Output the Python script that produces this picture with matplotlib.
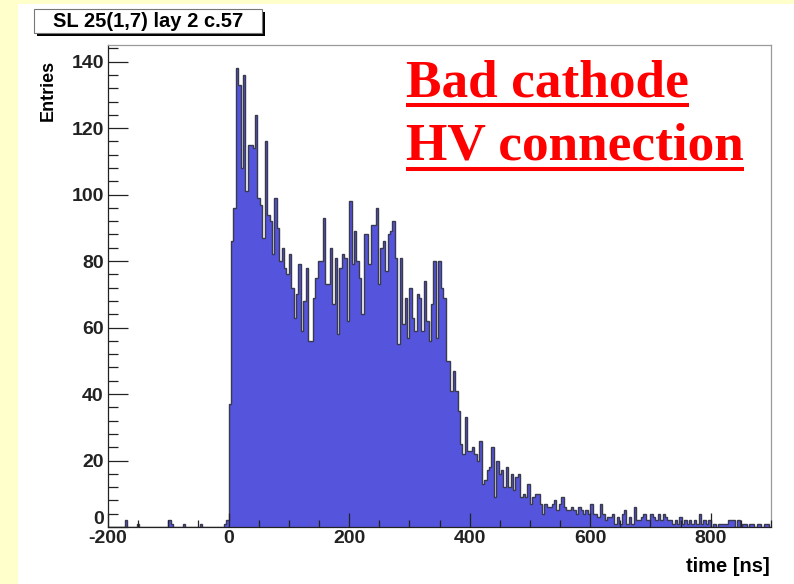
import numpy as np
import matplotlib
matplotlib.use('Agg')
import matplotlib.pyplot as plt
import matplotlib.transforms as mtransforms
from matplotlib.lines import Line2D
from matplotlib.patches import Rectangle

plt.rcParams['axes.unicode_minus'] = False
plt.rcParams['font.family'] = ['Liberation Sans', 'DejaVu Sans']

W, H = 794, 584

# drift time histogram, 4 ns bins from -200 to 900 ns
t_min, t_max, bin_width = -200, 900, 4

# bins below t=0 (-200 .. 0 ns)
neg_counts = [0, 0, 0, 0, 0, 0, 0, 2, 0, 0,
              0, 0, 1, 0, 0, 0, 0, 0, 0, 0,
              0, 0, 0, 0, 0, 2, 1, 0, 0, 0,
              0, 1, 0, 0, 0, 0, 0, 0, 1, 0,
              0, 0, 0, 0, 0, 0, 0, 0, 1, 2]

# 0 .. 128 ns
early_counts = [37, 86, 96, 138, 133, 108, 136, 101, 115, 115,
                114, 124, 99, 97, 87, 116, 94, 92, 82, 99,
                90, 80, 84, 78, 76, 82, 72, 63, 70, 79,
                59, 68]
# 128 .. 200 ns
dip_counts = [78, 56, 56, 69, 75, 80, 80, 93, 73, 73,
              84, 67, 81, 58, 78, 82, 81, 62]
# 200 .. 360 ns
plateau_counts = [98, 79, 89, 80, 75, 64, 88, 88, 79, 91,
                  91, 96, 73, 84, 86, 77, 88, 89, 92, 81,
                  55, 81, 61, 69, 57, 72, 63, 59, 70, 69,
                  59, 74, 62, 56, 67, 80, 57, 80, 72, 69]
# 360 .. 620 ns
edge_counts = [50, 50, 41, 47, 41, 35, 25, 22, 33, 23,
               23, 24, 22, 20, 26, 13, 14, 17, 18, 24,
               9, 20, 16, 17, 12, 18, 12, 16, 11, 15,
               16, 9, 10, 9, 13, 7, 9, 10, 10, 7,
               4, 7, 6, 6, 7, 8, 5, 7, 9, 6,
               5, 5, 6, 5, 4, 6, 5, 4, 5, 4,
               7, 4, 4, 3, 7]
# 620 .. 900 ns
tail_counts = [4, 2, 3, 3, 4, 1, 3, 1, 4, 5,
               1, 3, 1, 6, 2, 2, 3, 4, 2, 2,
               4, 3, 2, 4, 2, 4, 3, 2, 2, 1,
               2, 1, 3, 1, 2, 1, 2, 1, 2, 1,
               4, 1, 2, 1, 2, 0, 1, 0, 1, 1,
               1, 1, 2, 2, 2, 0, 2, 0, 1, 1,
               0, 1, 1, 0, 1, 1, 0, 1, 1, 0]

counts = np.array(neg_counts + early_counts + dip_counts + plateau_counts
                  + edge_counts + tail_counts)
edges = t_min + bin_width * np.arange(len(counts) + 1)

title = 'SL 25(1,7) lay 2 c.57'
note_lines = ['Bad cathode', 'HV connection']


def fx(x):
    return x / W


def fy(y):
    return 1 - y / H


fig = plt.figure(figsize=(W / 100, H / 100), dpi=100, facecolor='#ffffcc')
# white canvas area
fig.add_artist(Rectangle((fx(18), 0), 1 - fx(18), fy(4), transform=fig.transFigure,
                         facecolor='white', edgecolor='none', zorder=0))

ax = fig.add_axes([fx(108), fy(527), fx(771) - fx(108), fy(45) - fy(527)])
ax.set_facecolor('white')
ax.stairs(counts, edges, fill=True, facecolor='#5454dc', linewidth=0)
ax.stairs(counts, edges, fill=False, edgecolor='#3a3a4e', linewidth=1.0)

ax.set_xlim(t_min, t_max)
ax.set_ylim(0, 145)
ax.set_axisbelow(False)

ax.set_xticks(np.arange(-200, 901, 200))
ax.set_xticks(np.arange(-200, 901, 50), minor=True)
ax.set_yticks(np.arange(0, 141, 20))
ax.set_yticks(np.arange(0, 145, 4), minor=True)
ax.tick_params(axis='both', which='both', direction='in', colors='#222222',
               width=0.9, top=False, right=False)
ax.tick_params(axis='y', which='major', length=14.5, pad=3)
ax.tick_params(axis='y', which='minor', length=7)
ax.tick_params(axis='x', which='major', length=10, pad=2)
ax.tick_params(axis='x', which='minor', length=5)
for lab in ax.get_xticklabels() + ax.get_yticklabels():
    lab.set_fontweight('bold')
    lab.set_fontsize(14)

# lift the y "0" label so it clears the x labels
zero_lab = ax.get_yticklabels()[0]
zero_lab.set_transform(zero_lab.get_transform()
                       + mtransforms.ScaledTranslation(0, 9 / 100, fig.dpi_scale_trans))

for side in ('left', 'bottom'):
    ax.spines[side].set_color('#222222')
    ax.spines[side].set_linewidth(0.9)
for side in ('top', 'right'):
    ax.spines[side].set_color('#9a9a9a')
    ax.spines[side].set_linewidth(0.9)

fig.text(fx(48), fy(90), 'Entries', rotation=90, ha='center', va='center',
         fontsize=13, fontweight='bold')
fig.text(fx(770), fy(566), 'time [ns]', ha='right', va='center',
         fontsize=14.5, fontweight='bold')

# title pave with shadow
fig.add_artist(Rectangle((fx(37), fy(36)), fx(265) - fx(37), fy(12) - fy(36),
                         transform=fig.transFigure, facecolor='black',
                         edgecolor='none', zorder=3))
fig.add_artist(Rectangle((fx(34), fy(33)), fx(262) - fx(34), fy(9) - fy(33),
                         transform=fig.transFigure, facecolor='white',
                         edgecolor='#777777', linewidth=0.8, zorder=4))
fig.text(fx(148), fy(21.5), title, ha='center', va='center', fontsize=14.5,
         fontweight='bold', zorder=5)

# red underlined note
note_baselines = [97, 160]
note_underlines = [105, 169]
texts = []
for line, yb in zip(note_lines, note_baselines):
    texts.append(fig.text(fx(406), fy(yb), line, ha='left', va='baseline',
                          fontsize=38.3, fontweight='bold', color='#ff0000',
                          family=['Liberation Serif', 'DejaVu Serif']))
fig.canvas.draw()
renderer = fig.canvas.get_renderer()
for txt, yu in zip(texts, note_underlines):
    bb = txt.get_window_extent(renderer)
    fig.add_artist(Line2D([bb.x0 / W, bb.x1 / W], [fy(yu), fy(yu)],
                          transform=fig.transFigure, color='#ff0000',
                          linewidth=2.9, solid_capstyle='butt'))

fig.savefig('out.png', dpi=100, facecolor=fig.get_facecolor())
